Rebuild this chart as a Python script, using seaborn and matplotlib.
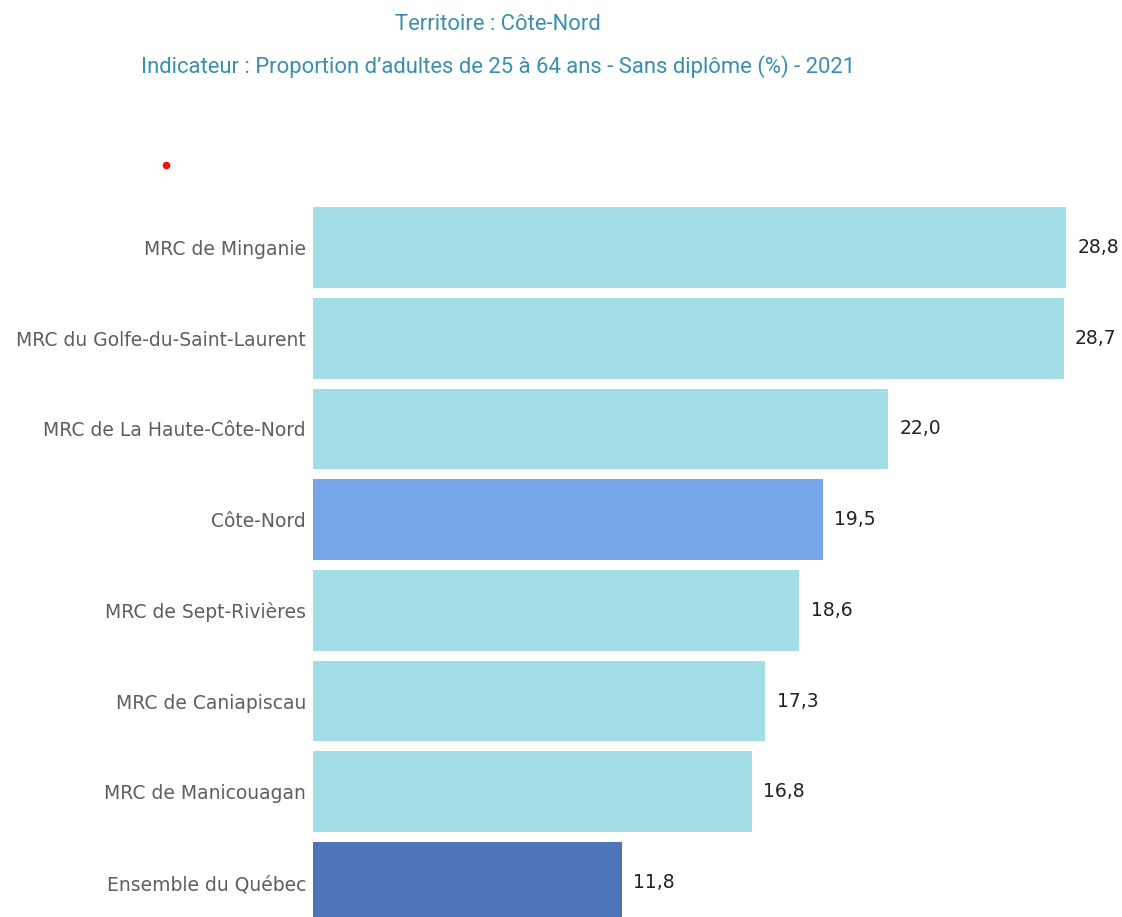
import matplotlib
matplotlib.use("Agg")
import matplotlib.pyplot as plt
from matplotlib.lines import Line2D
import pandas as pd
import seaborn as sns

categories = [
    "MRC de Minganie",
    "MRC du Golfe-du-Saint-Laurent",
    "MRC de La Haute-Côte-Nord",
    "Côte-Nord",
    "MRC de Sept-Rivières",
    "MRC de Caniapiscau",
    "MRC de Manicouagan",
    "Ensemble du Québec",
]
values = [28.8, 28.7, 22.0, 19.5, 18.6, 17.3, 16.8, 11.8]
title_territoire = "Territoire : Côte-Nord"
title_indicateur = "Indicateur : Proportion d\u2019adultes de 25 à 64 ans - Sans diplôme (%) - 2021"

light = "#A3DDE6"
palette = {c: light for c in categories}
palette["Côte-Nord"] = "#76A5E8"
palette["Ensemble du Québec"] = "#4E75B9"

df = pd.DataFrame({"territoire": categories, "valeur": values})

sns.set_theme(style="white")
plt.rcParams["font.family"] = ["DejaVu Sans"]

fig = plt.figure(figsize=(11.22, 9.17), dpi=100)
ax = fig.add_axes([313 / 1122, 0, (1122 - 313) / 1122, (917 - 200) / 917])

sns.barplot(data=df, x="valeur", y="territoire", hue="territoire",
            palette=palette, legend=False, width=0.89, ax=ax,
            saturation=1, edgecolor="none")

for cont in ax.containers:
    ax.bar_label(cont, labels=[f"{v:.1f}".replace(".", ",") for v in cont.datavalues],
                 padding=8, fontsize=13.5, color="#222222")

ax.set_xlim(0, (1122 - 313) / 26.15)
ax.set_ylim(7.38, -0.524)
ax.set_xlabel("")
ax.set_ylabel("")
ax.set_xticks([])
ax.tick_params(axis="y", length=0, pad=5, labelsize=13.5, labelcolor="#5e5e5e")
sns.despine(ax=ax, left=True, bottom=True, top=True, right=True)

fig.text(498 / 1122, 1 - 24 / 917, title_territoire, ha="center", va="center",
         fontsize=15.8, color="#3A8FAD", family=["Roboto", "DejaVu Sans"])
fig.text(498 / 1122, 1 - 67 / 917, title_indicateur, ha="center", va="center",
         fontsize=15.8, color="#3A8FAD", family=["Roboto", "DejaVu Sans"])

fig.add_artist(Line2D([166 / 1122], [1 - 165 / 917], marker="o", markersize=4.5,
                      color="#E8140E", linestyle="none", transform=fig.transFigure))

fig.savefig("out.png", dpi=100)
